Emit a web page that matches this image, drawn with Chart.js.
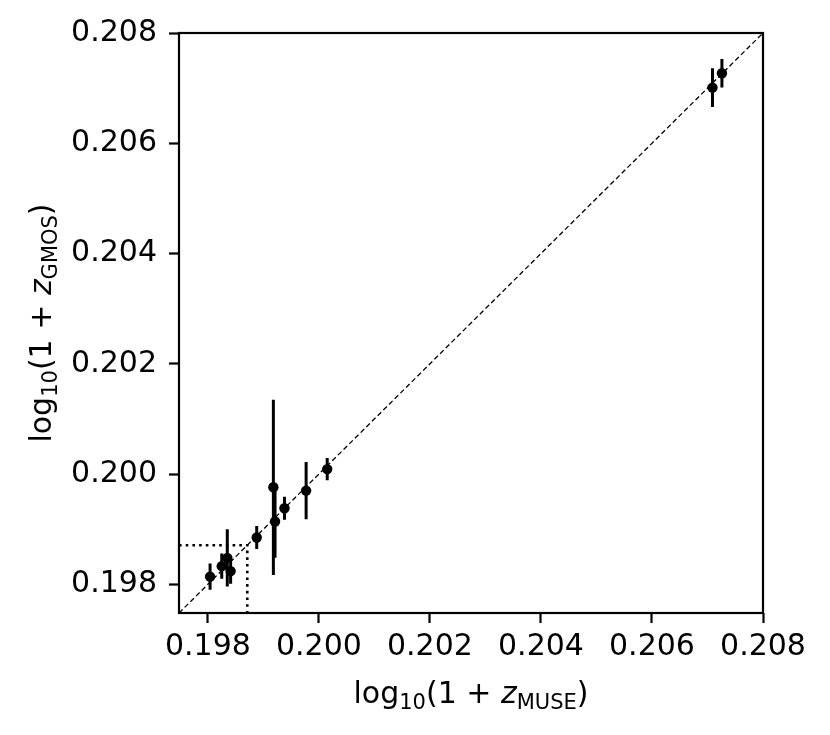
<!DOCTYPE html>
<html>
<head>
<meta charset="utf-8">
<script src="https://cdn.jsdelivr.net/npm/chart.js@4.4.1/dist/chart.umd.min.js"></script>
<style>
  html, body { margin: 0; padding: 0; background: #ffffff; }
  canvas { display: block; }
</style>
</head>
<body>
<canvas id="c" width="830" height="735"></canvas>
<script>
// ---- data ----
const tickVals = [0.198, 0.200, 0.202, 0.204, 0.206, 0.208];
const axisMin = 0.19748;
const axisMax = 0.208;
const museX  = [0.19804, 0.19825, 0.19835, 0.19841, 0.19888, 0.19918, 0.19921, 0.19938, 0.19977, 0.20015, 0.20709, 0.20726];
const gmosY  = [0.19814, 0.19833, 0.19848, 0.19824, 0.19885, 0.19976, 0.19914, 0.19938, 0.19970, 0.20009, 0.20701, 0.20727];
const gmosErr= [0.00024, 0.00023, 0.00052, 0.00023, 0.00021, 0.00159, 0.00066, 0.00021, 0.00052, 0.00020, 0.00035, 0.00026];
const cutValue = 0.19871;
const xTitleParts = [["log", "n"], ["10", "sub"], ["(1 + ", "n"], ["z", "it"], ["MUSE", "sub"], [")", "n"]];
const yTitleParts = [["log", "n"], ["10", "sub"], ["(1 + ", "n"], ["z", "it"], ["GMOS", "sub"], [")", "n"]];

// ---- build datasets ----
const points = museX.map((x, i) => ({ x: x, y: gmosY[i] }));
const errData = [];
museX.forEach((x, i) => {
  errData.push({ x: x, y: gmosY[i] - gmosErr[i] });
  errData.push({ x: x, y: gmosY[i] + gmosErr[i] });
  errData.push({ x: x, y: null });
});
const diag = [{ x: axisMin, y: axisMin }, { x: axisMax, y: axisMax }];
const dotted = [{ x: axisMin, y: cutValue }, { x: cutValue, y: cutValue }, { x: cutValue, y: axisMin }];

const FONT = "'DejaVu Sans', 'Liberation Sans', sans-serif";
const FS = 30;

function drawTitle(ctx, parts, cx, baseY) {
  const sub = Math.round(FS * 0.7);
  const fonts = {
    n: FS + "px " + FONT,
    it: "italic " + FS + "px " + FONT,
    sub: sub + "px " + FONT
  };
  let total = 0;
  const widths = parts.map(p => { ctx.font = fonts[p[1]]; const w = ctx.measureText(p[0]).width; total += w; return w; });
  let x = cx - total / 2;
  ctx.fillStyle = "#000";
  ctx.textBaseline = "alphabetic";
  ctx.textAlign = "left";
  parts.forEach((p, i) => {
    ctx.font = fonts[p[1]];
    const dy = p[1] === "sub" ? 6 : 0;
    ctx.fillText(p[0], x, baseY + dy);
    x += widths[i];
  });
}

const framePlugin = {
  id: "frame",
  afterDraw(chart) {
    const { ctx, chartArea: a } = chart;
    ctx.save();
    ctx.strokeStyle = "#000";
    ctx.lineWidth = 2.2;
    ctx.strokeRect(a.left, a.top, a.right - a.left, a.bottom - a.top);
    // axis titles
    drawTitle(ctx, xTitleParts, (a.left + a.right) / 2, 703);
    ctx.translate(51, (a.top + a.bottom) / 2);
    ctx.rotate(-Math.PI / 2);
    drawTitle(ctx, yTitleParts, 0, 0);
    ctx.restore();
  }
};

function axisCommon() {
  return {
    type: "linear",
    min: axisMin,
    max: axisMax,
    afterBuildTicks: s => { s.ticks = tickVals.map(v => ({ value: v })); },
    ticks: {
      callback: v => Number(v).toFixed(3),
      color: "#000",
      font: { family: FONT, size: FS },
      autoSkip: false,
      maxRotation: 0,
      minRotation: 0
    },
    grid: {
      display: true,
      drawOnChartArea: false,
      drawTicks: true,
      tickLength: 10,
      tickWidth: 2.2,
      tickColor: "#000"
    },
    border: { display: false }
  };
}

const xScale = axisCommon();
xScale.position = "bottom";
xScale.ticks.padding = 6;
xScale.afterFit = s => { s.height = 122; };
const yScale = axisCommon();
yScale.position = "left";
yScale.ticks.padding = 12;
yScale.afterFit = s => { s.width = 179; };

new Chart(document.getElementById("c"), {
  type: "scatter",
  data: {
    datasets: [
      {
        data: points,
        pointRadius: 5.2,
        pointHoverRadius: 5.2,
        pointBackgroundColor: "#000",
        pointBorderColor: "#000",
        pointBorderWidth: 0,
        showLine: false
      },
      {
        data: errData,
        showLine: true,
        spanGaps: false,
        borderColor: "#000",
        borderWidth: 3,
        pointRadius: 0,
        pointHoverRadius: 0
      },
      {
        data: diag,
        showLine: true,
        borderColor: "#000",
        borderWidth: 1.3,
        borderDash: [5, 3],
        pointRadius: 0,
        pointHoverRadius: 0
      },
      {
        data: dotted,
        showLine: true,
        borderColor: "#000",
        borderWidth: 2.6,
        borderDash: [2.6, 4.1],
        pointRadius: 0,
        pointHoverRadius: 0
      }
    ]
  },
  options: {
    responsive: false,
    animation: false,
    events: [],
    layout: { padding: { left: 0, right: 67, top: 33, bottom: 0 } },
    plugins: { legend: { display: false }, tooltip: { enabled: false } },
    scales: { x: xScale, y: yScale }
  },
  plugins: [framePlugin]
});
</script>
</body>
</html>
